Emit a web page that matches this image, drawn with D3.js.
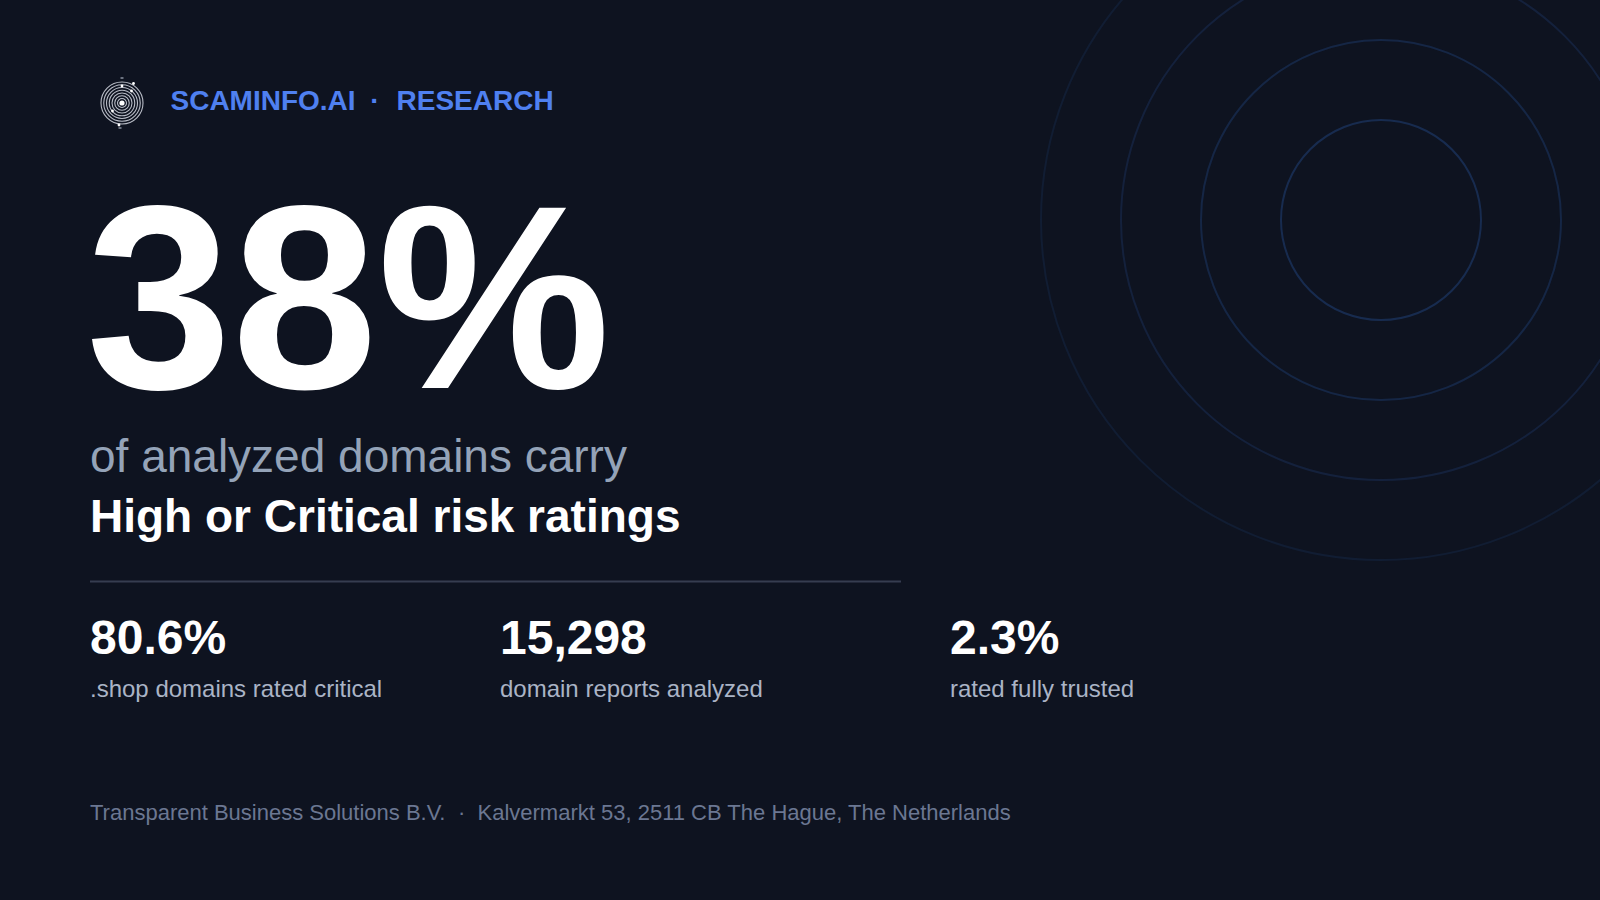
<!DOCTYPE html>
<html>
<head>
<meta charset="utf-8">
<script src="https://cdn.jsdelivr.net/npm/d3@7"></script>
<style>
  html, body { margin: 0; padding: 0; background: #0e1320; }
  svg { display: block; }
  text { font-family: "Liberation Sans", Arial, Helvetica, sans-serif; }
</style>
</head>
<body>
<svg id="chart" width="1600" height="900"></svg>
<script>
// ---- data ----
const brand = "SCAMINFO.AI";
const section = "RESEARCH";
const headline = "38%";
const subtitleLine1 = "of analyzed domains carry";
const subtitleLine2 = "High or Critical risk ratings";
const statValues = ["80.6%", "15,298", "2.3%"];
const statLabels = [".shop domains rated critical", "domain reports analyzed", "rated fully trusted"];
const footerParts = ["Transparent Business Solutions B.V.", "·", "Kalvermarkt 53, 2511 CB The Hague, The Netherlands"];
const ringIndex = [0, 1, 2, 3];
const logoRingIndex = [0, 1, 2, 3, 4, 5, 6];
const logoDots = [[0, -17], [11.5, -19.5], [9.5, -12], [-9.5, 8], [-3, 22]];

// ---- layout ----
const W = 1600, H = 900;
const svg = d3.select("#chart");
svg.append("rect").attr("width", W).attr("height", H).attr("fill", "#0e1320");

// background concentric rings
const ringR = d3.scaleLinear().domain([0, 3]).range([100, 340]);
const ringOpacity = d3.scaleLinear().domain([0, 3]).range([0.22, 0.09]);
svg.append("g").selectAll("circle").data(ringIndex).join("circle")
  .attr("cx", 1381).attr("cy", 220)
  .attr("r", d => ringR(d))
  .attr("fill", "none")
  .attr("stroke", "#3b82f6")
  .attr("stroke-opacity", d => ringOpacity(d))
  .attr("stroke-width", 2);

// logo
const logo = svg.append("g").attr("transform", "translate(122,103)");
const logoR = d3.scaleLinear().domain([0, 6]).range([4.5, 21]);
logo.selectAll("circle.ring").data(logoRingIndex).join("circle")
  .attr("class", "ring")
  .attr("r", d => logoR(d))
  .attr("fill", "none")
  .attr("stroke", "#b8bcc6")
  .attr("stroke-width", 1.1);
logo.append("rect").attr("x", -1.5).attr("y", -26).attr("width", 3).attr("height", 2).attr("fill", "#6b7280");
logo.append("rect").attr("x", -3.5).attr("y", 24).attr("width", 3).attr("height", 2).attr("fill", "#6b7280");
logo.append("circle").attr("r", 2.6).attr("fill", "#ffffff");
logo.selectAll("circle.dot").data(logoDots).join("circle")
  .attr("class", "dot")
  .attr("cx", d => d[0]).attr("cy", d => d[1])
  .attr("r", 1.4).attr("fill", "#ffffff");

// header
const blue = "#4f80f0";
svg.append("text").attr("x", 170.5).attr("y", 110)
  .attr("font-size", 28).attr("font-weight", 700).attr("fill", blue).text(brand);
svg.append("text").attr("x", 375).attr("y", 110).attr("text-anchor", "middle")
  .attr("font-size", 28).attr("font-weight", 700).attr("fill", blue).text("·");
svg.append("text").attr("x", 396.5).attr("y", 110)
  .attr("font-size", 28).attr("font-weight", 700).attr("fill", blue).text(section);

// headline
svg.append("text").attr("x", 86).attr("y", 388)
  .attr("font-size", 262).attr("font-weight", 700).attr("fill", "#ffffff")
  .text(headline);

svg.append("text").attr("x", 90).attr("y", 471.5)
  .attr("font-size", 46).attr("fill", "#94a3b8").text(subtitleLine1);
svg.append("text").attr("x", 90).attr("y", 531.5)
  .attr("font-size", 46).attr("font-weight", 700).attr("fill", "#ffffff").text(subtitleLine2);

// divider
svg.append("line").attr("x1", 90).attr("x2", 901).attr("y1", 581.5).attr("y2", 581.5)
  .attr("stroke", "#363d50").attr("stroke-width", 2);

// stats
const colX = d3.scaleOrdinal().domain(d3.range(statValues.length)).range([90, 500, 950]);
const stats = svg.append("g").selectAll("g").data(statValues).join("g")
  .attr("transform", (d, i) => `translate(${colX(i)},0)`);
stats.append("text").attr("y", 654)
  .attr("font-size", 48).attr("font-weight", 700).attr("fill", "#ffffff").text(d => d);
stats.append("text").attr("y", 697)
  .attr("font-size", 24).attr("fill", "#aab4c6").text((d, i) => statLabels[i]);

// footer
const footerX = d3.scaleOrdinal().domain([0, 1, 2]).range([90, 458, 477.5]);
svg.append("g").selectAll("text").data(footerParts).join("text")
  .attr("x", (d, i) => footerX(i)).attr("y", 820)
  .attr("font-size", 22).attr("fill", "#6b7792").text(d => d);
</script>
</body>
</html>
